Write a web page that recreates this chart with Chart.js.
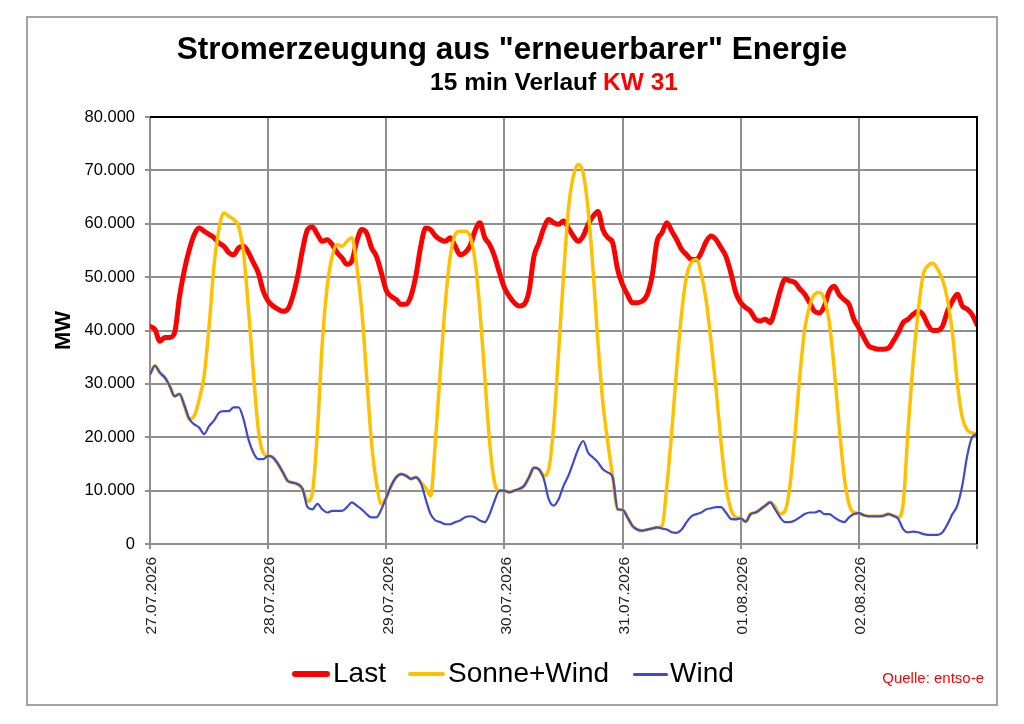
<!DOCTYPE html>
<html lang="de">
<head>
<meta charset="utf-8">
<title>Stromerzeugung aus "erneuerbarer" Energie</title>
<script src="https://cdn.jsdelivr.net/npm/chart.js@4.4.1/dist/chart.umd.min.js"></script>
<style>
  html, body { margin: 0; padding: 0; background: #ffffff; }
  body { width: 1024px; height: 724px; position: relative; overflow: hidden;
         font-family: "Liberation Sans", Arial, Helvetica, sans-serif; }
  #frame { position: absolute; left: 26px; top: 16px; width: 968px; height: 686px;
           border: 2px solid #a3a3a3; z-index: 2; pointer-events: none; background: transparent; }
  #chart { position: absolute; left: 0; top: 0; z-index: 1; }
  .title { position: absolute; left: 0; width: 1024px; text-align: center; font-weight: bold; color: #000; white-space: nowrap; z-index: 3; }
  #t1 { top: 33px; font-size: 31.5px; line-height: 31px; }
  #t2 { top: 70px; font-size: 24.5px; line-height: 24px; left: 42px; }
  #t2 .red { color: #ff0000; }
  .lg { position: absolute; font-size: 28px; line-height: 28px; top: 659px; color: #000; white-space: nowrap; z-index: 3; }
  .mk { position: absolute; border-radius: 3px; z-index: 3; }
  #src { position: absolute; right: 40px; top: 670px; font-size: 15px; line-height: 15px; color: #ff0000; z-index: 3; }
</style>
</head>
<body>
<canvas id="chart" width="1024" height="724"></canvas>
<div id="frame"></div>
<div class="title" id="t1">Stromerzeugung aus "erneuerbarer" Energie</div>
<div class="title" id="t2">15 min Verlauf <span class="red">KW 31</span></div>

<div class="mk" style="left:292px; top:671px; width:38px; height:6px; background:#ff0000;"></div>
<div class="lg" style="left:333px;">Last</div>
<div class="mk" style="left:408px; top:672px; width:37px; height:4px; background:#ffc000;"></div>
<div class="lg" style="left:448px;">Sonne+Wind</div>
<div class="mk" style="left:633px; top:673px; width:35px; height:2.5px; background:#4048cc;"></div>
<div class="lg" style="left:670px;">Wind</div>
<div id="src">Quelle: entso-e</div>

<script>
// Day labels (x axis), one per day, 27.07.2026 .. 02.08.2026
const dayLabels = ["27.07.2026", "28.07.2026", "29.07.2026", "30.07.2026", "31.07.2026", "01.08.2026", "02.08.2026"];
// Y tick labels
const yTickLabels = ["0", "10.000", "20.000", "30.000", "40.000", "50.000", "60.000", "70.000", "80.000"];

// Hourly readings (MW), hour 0 of 27.07 .. hour 0 of 03.08 (169 values)
const last = [
  40800, 40200, 38000, 38700, 38700, 39600, 46400, 51400, 55200, 58000, 59200, 58600, 58000, 57400, 56400, 55800, 54600, 54200, 55500, 55800, 54600, 52700, 50800, 47400,
  45500, 44600, 44000, 43600, 44000, 46400, 50200, 55200, 58900, 59400, 58000, 56700, 57000, 56100, 54600, 53600, 52400, 53000, 56700, 58900, 58300, 55500, 53900, 50800,
  47500, 46400, 45800, 44900, 44900, 46400, 50200, 55800, 59200, 58900, 57700, 57000, 56700, 57400, 55800, 54200, 54600, 55800, 58600, 60200, 57400, 56100, 53900, 50800,
  48000, 46400, 45200, 44600, 44900, 47400, 53900, 56400, 59200, 60800, 60200, 59900, 60500, 59200, 57700, 56700, 57700, 59900, 61400, 62300, 58900, 57400, 56400, 51400,
  48600, 46700, 45200, 45200, 45500, 46700, 50200, 56700, 58300, 60200, 58600, 57000, 55200, 54200, 53300, 53300, 54600, 56700, 57700, 57000, 55500, 53900, 50800, 47100,
  45200, 44300, 43600, 42100, 41800, 42100, 41500, 44000, 47400, 49600, 49300, 49000, 47800, 46800, 45200, 43600, 43300, 44600, 47400, 48300, 46700, 45800, 44900, 42100,
  40500, 38700, 37100, 36700, 36500, 36500, 36700, 38000, 39600, 41500, 42100, 43000, 43600, 43000, 41100, 40000, 40000, 40800, 43600, 45500, 46800, 44600, 44000, 43000,
  41100
];

const sonneWind = [
  31800, 33400, 32100, 31200, 29600, 27700, 28100, 25900, 23400, 24000, 27100, 31500, 40800, 52100, 58900, 62000, 61400, 60800, 59500, 54600, 44000, 32100, 21500, 17100,
  16500, 16200, 15000, 13400, 11800, 11500, 11200, 10300, 8000, 9700, 21000, 37700, 48300, 53900, 56100, 55800, 56700, 57400, 52100, 44000, 31500, 19000, 11500, 7500,
  8700, 10900, 12500, 13100, 12800, 12200, 12500, 11500, 10500, 9000, 19600, 32700, 45200, 53900, 58000, 58600, 58600, 57700, 53300, 44000, 31500, 19000, 11500, 10000,
  10000, 9700, 10000, 10300, 10900, 12500, 14300, 14000, 12800, 14000, 22100, 35800, 50200, 62700, 68900, 71100, 69500, 62700, 51400, 37700, 26500, 19000, 12500, 6500,
  6400, 5000, 3400, 2700, 2500, 2700, 2900, 3100, 3300, 10900, 21200, 33000, 43300, 50200, 52800, 53300, 50500, 45500, 37700, 29000, 19000, 10900, 6500, 5000,
  4800, 4200, 5600, 5900, 6500, 7200, 7800, 6900, 5600, 6200, 10900, 20300, 31500, 40200, 44600, 46800, 47100, 45800, 41500, 32700, 22100, 12800, 7500, 5900,
  5800, 5400, 5200, 5200, 5200, 5300, 5600, 5300, 5000, 7500, 21500, 33800, 43100, 50200, 52100, 52600, 51500, 49500, 45800, 39600, 30200, 23700, 21400, 20800,
  20600
];

const wind = [
  31800, 33400, 32100, 31200, 29600, 27700, 28100, 25900, 23400, 22400, 21800, 20600, 22100, 23100, 24600, 24900, 24900, 25600, 25600, 23400, 19600, 17100, 15900, 15900,
  16500, 16200, 15000, 13400, 11800, 11500, 11200, 10300, 6900, 6500, 7500, 6500, 5900, 6200, 6200, 6200, 6900, 7800, 7200, 6500, 5600, 5000, 5000, 6500,
  8700, 10900, 12500, 13100, 12800, 12200, 12500, 11500, 8400, 5600, 4400, 4100, 3700, 3700, 4100, 4400, 5000, 5200, 5000, 4400, 4100, 5600, 8100, 10000,
  10000, 9700, 10000, 10300, 10900, 12500, 14300, 14000, 12200, 8400, 7200, 8400, 10900, 12800, 15300, 17800, 19300, 17100, 16200, 15300, 14000, 13400, 12500, 6500,
  6400, 5000, 3400, 2700, 2500, 2700, 2900, 3100, 2900, 2700, 2200, 2100, 2700, 4100, 5200, 5600, 5900, 6500, 6700, 6900, 6900, 5900, 4700, 4600,
  4800, 4200, 5600, 5900, 6500, 7200, 7800, 6500, 5000, 4100, 4100, 4400, 5000, 5600, 5900, 5900, 6200, 5600, 5600, 5000, 4400, 4100, 5000, 5600,
  5800, 5400, 5200, 5200, 5200, 5300, 5600, 5300, 4700, 2800, 2200, 2300, 2200, 1900, 1700, 1700, 1700, 2200, 3700, 5600, 7200, 10900, 16500, 20000,
  20600
];

const toPoints = arr => arr.map((v, i) => ({ x: i, y: v }));

const plotFrame = {
  id: 'plotFrame',
  beforeDraw(chart) {
    const c = chart.ctx;
    c.save();
    c.fillStyle = '#ffffff';
    c.fillRect(0, 0, chart.width, chart.height);
    c.restore();
  },
  afterDraw(chart) {
    const a = chart.chartArea, c = chart.ctx;
    c.save();
    c.strokeStyle = '#000000';
    c.lineWidth = 2;
    c.beginPath();
    c.moveTo(a.left, a.top);
    c.lineTo(a.right, a.top);
    c.lineTo(a.right, a.bottom);
    c.stroke();
    c.restore();
  }
};

const gridColor = '#8f8f8f';
const font = '"Liberation Sans", Arial, Helvetica, sans-serif';

new Chart(document.getElementById('chart'), {
  type: 'line',
  data: {
    datasets: [
      { label: 'Last', data: toPoints(last), borderColor: '#ff0000', borderWidth: 5, order: 3 },
      { label: 'Sonne+Wind', data: toPoints(sonneWind), borderColor: '#ffc000', borderWidth: 3.5, order: 2 },
      { label: 'Wind', data: toPoints(wind), borderColor: '#4048cc', borderWidth: 2.2, order: 1 }
    ]
  },
  options: {
    responsive: false,
    animation: false,
    devicePixelRatio: 1,
    layout: { padding: { left: 0, top: 117, right: 47, bottom: 0 } },
    elements: {
      point: { radius: 0, hoverRadius: 0 },
      line: { cubicInterpolationMode: 'monotone', fill: false, borderCapStyle: 'round', borderJoinStyle: 'round' }
    },
    plugins: { legend: { display: false }, tooltip: { enabled: false }, title: { display: false } },
    scales: {
      x: {
        type: 'linear',
        min: 0,
        max: 168,
        afterFit: s => { s.height = 180; },
        grid: { color: gridColor, lineWidth: 2, tickLength: 5, drawTicks: true },
        border: { color: gridColor, width: 2 },
        ticks: {
          stepSize: 24,
          autoSkip: false,
          minRotation: 90,
          maxRotation: 90,
          padding: 8,
          labelOffset: 2,
          color: '#222222',
          font: { family: font, size: 15.5 },
          callback: v => (v % 24 === 0 && v / 24 < dayLabels.length) ? dayLabels[v / 24] : ''
        }
      },
      y: {
        min: 0,
        max: 80000,
        afterFit: s => { s.width = 150; },
        grid: { color: gridColor, lineWidth: 2, tickLength: 5, drawTicks: true },
        border: { color: gridColor, width: 2 },
        title: {
          display: true,
          text: 'MW',
          color: '#000000',
          font: { family: font, size: 22, weight: 'bold' },
          padding: { top: 51, bottom: 0 }
        },
        ticks: {
          stepSize: 10000,
          padding: 10,
          color: '#000000',
          font: { family: font, size: 16.5 },
          callback: v => yTickLabels[Math.round(v / 10000)]
        }
      }
    }
  },
  plugins: [plotFrame]
});
</script>
</body>
</html>
